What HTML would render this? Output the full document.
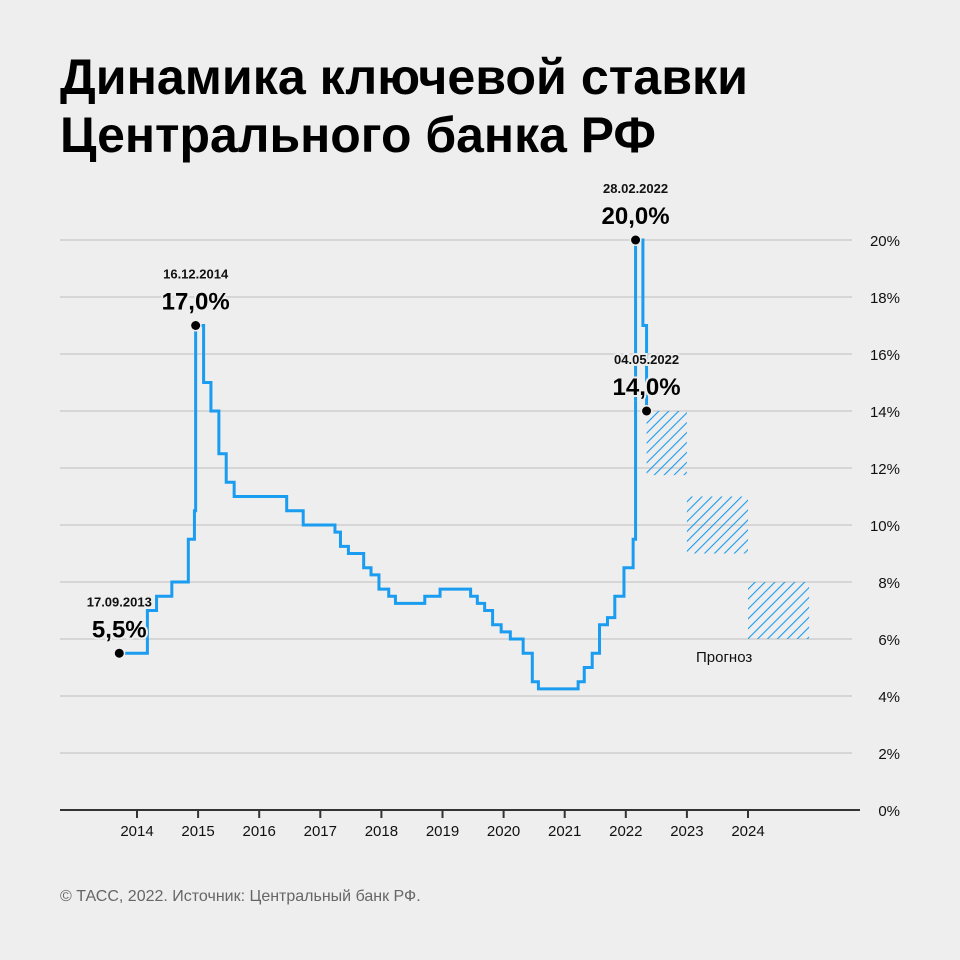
<!DOCTYPE html>
<html><head><meta charset="utf-8"><style>
body{margin:0;background:#eeeeee;}
svg{display:block;font-family:"Liberation Sans","DejaVu Sans",sans-serif;}
</style></head><body>
<svg width="960" height="960" viewBox="0 0 960 960">
<defs>
<pattern id="hatch" patternUnits="userSpaceOnUse" width="7" height="7" patternTransform="rotate(45)">
<line x1="0" y1="0" x2="0" y2="7" stroke="#1a9cf0" stroke-width="2.2"/>
</pattern>
</defs>
<rect width="960" height="960" fill="#eeeeee"/>
<text x="60" y="94" font-size="50" font-weight="bold" fill="#000" textLength="688" lengthAdjust="spacingAndGlyphs">Динамика ключевой ставки</text>
<text x="60" y="152" font-size="50" font-weight="bold" fill="#000" textLength="596" lengthAdjust="spacingAndGlyphs">Центрального банка РФ</text>
<g id="grid"></g>
<g id="yticks"></g>
<g id="forecast"></g>
<path id="rateLine" fill="none" stroke="#1a9cf0" stroke-width="3"/>
<line x1="60" y1="810" x2="860" y2="810" stroke="#333" stroke-width="2"/>
<g id="xticks"></g>
<g id="annots"></g>
<text x="696" y="662" font-size="15" fill="#111">Прогноз</text>
<text x="60" y="901" font-size="16" fill="#666">© ТАСС, 2022. Источник: Центральный банк РФ.</text>
</svg>
<script>
const rateDates=[2013.71,2014.17,2014.32,2014.57,2014.84,2014.94,2014.96,2015.09,2015.21,2015.34,2015.46,2015.59,2016.45,2016.72,2017.24,2017.33,2017.46,2017.71,2017.83,2017.96,2018.12,2018.23,2018.71,2018.96,2019.46,2019.57,2019.69,2019.82,2019.96,2020.11,2020.32,2020.47,2020.57,2021.22,2021.32,2021.45,2021.57,2021.70,2021.82,2021.97,2022.12,2022.16,2022.28,2022.34];
const rateValues=[5.5,7.0,7.5,8.0,9.5,10.5,17.0,15.0,14.0,12.5,11.5,11.0,10.5,10.0,9.75,9.25,9.0,8.5,8.25,7.75,7.5,7.25,7.5,7.75,7.5,7.25,7.0,6.5,6.25,6.0,5.5,4.5,4.25,4.5,5.0,5.5,6.5,6.75,7.5,8.5,9.5,20.0,17.0,14.0];
const forecastStart=[2022.34,2023,2024];
const forecastEnd=[2023,2024,2025];
const forecastLow=[11.75,9,6];
const forecastHigh=[14,11,8];
const yTicks=[0,2,4,6,8,10,12,14,16,18,20];
const xYears=[2014,2015,2016,2017,2018,2019,2020,2021,2022,2023,2024];
const annotations=[{d:2013.71,v:5.5,date:"17.09.2013",val:"5,5%"},{d:2014.96,v:17.0,date:"16.12.2014",val:"17,0%"},{d:2022.16,v:20.0,date:"28.02.2022",val:"20,0%"},{d:2022.34,v:14.0,date:"04.05.2022",val:"14,0%"}];
const NS="http://www.w3.org/2000/svg";
function xS(t){return 137+61.1*(t-2014);}
function yS(v){return 810-28.5*v;}
function mk(tag,attrs,parent,txt){const e=document.createElementNS(NS,tag);for(const k in attrs)e.setAttribute(k,attrs[k]);if(txt!==undefined)e.textContent=txt;parent.appendChild(e);return e;}
const grid=document.getElementById('grid'),yt=document.getElementById('yticks');
yTicks.forEach(v=>{
 if(v>0){const l=mk('line',{x1:60,x2:852,y1:yS(v),y2:yS(v),stroke:'#d6d6d6','stroke-width':2},grid);
 
 }
 const t=mk('text',{x:900,y:yS(v)+6,'text-anchor':'end','font-size':15,fill:'#111'},yt,v+'%');
 
 
});
const xt=document.getElementById('xticks');
xYears.forEach(y=>{
 const l=mk('line',{x1:xS(y),x2:xS(y),y1:810,y2:818,stroke:'#333','stroke-width':2},xt);
 
 
 const t=mk('text',{x:xS(y),y:836,'text-anchor':'middle','font-size':15,fill:'#111'},xt,String(y));
 
 
});
const fc=document.getElementById('forecast');
forecastStart.forEach((s,i)=>{
 const r=mk('rect',{x:xS(s),y:yS(forecastHigh[i]),width:xS(forecastEnd[i])-xS(s),height:yS(forecastLow[i])-yS(forecastHigh[i]),fill:'url(#hatch)'},fc);
 
 
});
let d='M'+xS(rateDates[0])+' '+yS(rateValues[0]);
for(let i=1;i<rateDates.length;i++){d+=' H'+xS(rateDates[i])+' V'+yS(rateValues[i]);}
d+=' H'+(xS(rateDates[rateDates.length-1])+1);
document.getElementById('rateLine').setAttribute('d',d);
const an=document.getElementById('annots');
annotations.forEach(a=>{
 const x=xS(a.d),y=yS(a.v);
 const c=mk('circle',{cx:x,cy:y,r:4.5,fill:'#000',stroke:'#eeeeee','stroke-width':3,'paint-order':'stroke'},an);
 
 
 const t1=mk('text',{x:x,y:y-47,'text-anchor':'middle','font-size':13,'font-weight':'bold',fill:'#111',stroke:'#eeeeee','stroke-width':4,'paint-order':'stroke'},an,a.date);
 
 
 const t2=mk('text',{x:x,y:y-16,'text-anchor':'middle','font-size':24,'font-weight':'bold',fill:'#000',stroke:'#eeeeee','stroke-width':4,'paint-order':'stroke'},an,a.val);
 
 
});
</script>
</body></html>
